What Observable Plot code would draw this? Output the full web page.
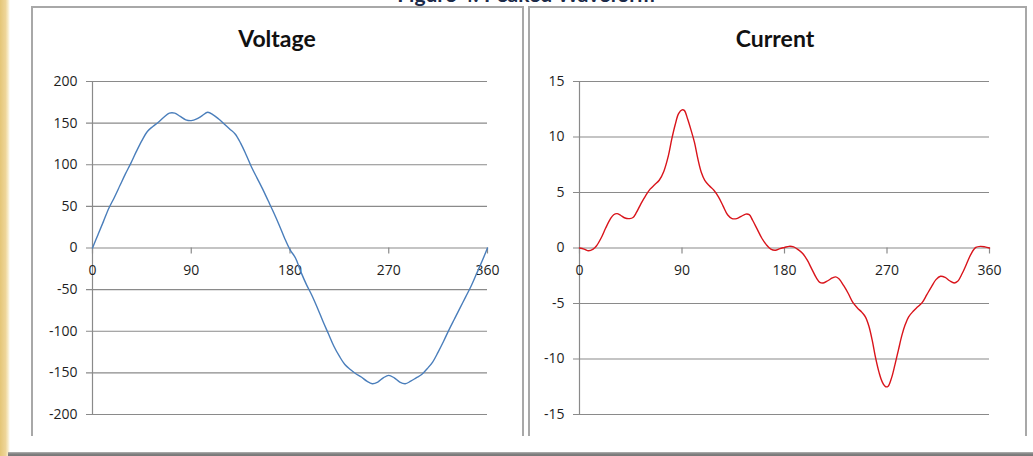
<!DOCTYPE html>
<html>
<head>
<meta charset="utf-8">
<script src="https://cdn.jsdelivr.net/npm/d3@7"></script>
<script src="https://cdn.jsdelivr.net/npm/@observablehq/plot@0.6"></script>
<style>
  html, body { margin: 0; padding: 0; background: #fff; }
  #page { position: relative; width: 1033px; height: 456px; overflow: hidden; background: #fff; font-family: Lato, "Open Sans", sans-serif; }
  .strip { position: absolute; left: 0; top: 0; width: 10px; height: 456px;
           background: linear-gradient(to right, #e4c677 0%, #eed598 55%, #f7ebc8 80%, #ffffff 100%); }
  .figtitle { position: absolute; left: 326px; width: 400px; top: -17px; text-align: center;
              font-size: 21px; line-height: 21px; font-weight: 700; color: #1c2a48; }
  .panel { position: absolute; box-sizing: border-box; border: 2px solid #a8a8a8; border-bottom: none; background: #fff; }
  .ptitle { position: absolute; text-align: center; font-size: 23px; line-height: 23px; font-weight: 700; color: #111; }
  .chart { position: absolute; }
  .shadow { position: absolute; left: 8px; top: 452px; width: 1025px; height: 4px;
            background: linear-gradient(#b4b4b4, #808080 50%, #777); }
</style>
</head>
<body>
<div id="page">
  <div class="strip"></div>
  <div class="figtitle">Figure 4: Peaked Waveform</div>
  <div class="panel" style="left:31px;top:6px;width:493px;height:430px"></div>
  <div class="panel" style="left:528px;top:6px;width:499px;height:430px"></div>
  <div class="ptitle" style="left:177px;width:200px;top:27px">Voltage</div>
  <div class="ptitle" style="left:675px;width:200px;top:27px">Current</div>
  <div id="volt" class="chart" style="left:32px;top:60px"></div>
  <div id="curr" class="chart" style="left:529px;top:60px"></div>
  <div class="shadow"></div>
</div>
<script>
// ---- data ----
const voltDeg = [0,5,10,15,20,25,30,35,40,45,50,55,60,65,70,75,80,85,90,95,100,105,110,115,120,125,130,135,140,145,150,155,160,165,170,175,180,
                 185,190,195,200,205,210,215,220,225,230,235,240,245,250,255,260,265,270,275,280,285,290,295,300,305,310,315,320,325,330,335,340,345,350,355,360];
const voltVal = [0,16,32,48,61,75,89,102,116,129,140,146,151,157,162,162,158,154,153,155,159,163,160,155,149,143,137,126,112,97,84,71,57,43,28,12,-2,
                 -12,-29,-44,-57,-72,-88,-103,-118,-130,-140,-146,-151,-155,-160,-163,-161,-156,-153,-156,-161,-163,-160,-156,-152,-145,-137,-125,-112,-98,-85,-72,-59,-46,-31,-16,0];

const currDeg = [0,4,8,12,15,19,23,27,30,33,36,40,44,47,50,54,58,62,66,70,74,78,81,84,87,90,92,95,98,101,104,107,110,114,118,122,126,130,134,138,142,146,149,152,156,160,164,168,172,176,
                 180,184,188,192,196,200,204,208,211,214,218,222,225,228,232,236,240,244,248,251,254,257,260,263,266,269,271,274,277,280,283,286,289,293,297,301,305,309,313,317,321,325,329,332,336,340,344,348,352,356,360];
const currVal = [0,-0.1,-0.25,-0.1,0.2,0.9,1.8,2.6,3.0,3.1,2.95,2.7,2.65,2.75,3.2,4.0,4.7,5.3,5.7,6.1,6.9,8.3,9.8,11.1,12.1,12.45,12.4,11.6,10.6,9.5,8.0,6.8,6.1,5.6,5.2,4.6,3.8,3.0,2.65,2.65,2.85,3.05,3.0,2.5,1.7,0.9,0.3,-0.1,-0.2,-0.05,
                 0.05,0.15,0.1,-0.15,-0.5,-1.1,-1.9,-2.7,-3.1,-3.15,-2.95,-2.7,-2.6,-2.8,-3.4,-4.1,-4.9,-5.4,-5.8,-6.2,-7.0,-8.3,-9.9,-11.2,-12.1,-12.5,-12.45,-11.7,-10.5,-9.2,-7.9,-6.9,-6.2,-5.7,-5.3,-4.9,-4.2,-3.5,-2.85,-2.55,-2.65,-2.95,-3.15,-3.0,-2.3,-1.4,-0.5,0.05,0.15,0.1,0];

const voltTicks = [-200,-150,-100,-50,0,50,100,150,200];
const currTicks = [-15,-10,-5,0,5,10,15];
const degTicks = [0,90,180,270,360];

const gridColor = "#8a8a8a";
const textColor = "#1e1e1e";

function makeChart({deg, val, yTicks, color, width, marginLeft, marginRight}) {
  const data = deg.map((d, i) => ({deg: d, v: val[i]}));
  return Plot.plot({
    width, height: 380,
    marginLeft, marginRight, marginTop: 21, marginBottom: 26,
    x: {domain: [0, 360], axis: null},
    y: {domain: [yTicks[0], yTicks[yTicks.length - 1]], axis: null},
    style: {fontFamily: "'Open Sans', Lato, sans-serif", fontSize: "14px", color: textColor, background: "transparent", overflow: "visible"},
    marks: [
      Plot.ruleY(yTicks, {y: d => d, stroke: gridColor, strokeWidth: 1.2, insetLeft: -6}),
      Plot.ruleX([0], {x: d => d, stroke: gridColor, strokeWidth: 1.2}),
      Plot.ruleX(degTicks, {x: d => d, y1: 0, y2: 0, insetTop: 6, stroke: gridColor, strokeWidth: 1.2}),
      Plot.text(yTicks, {y: d => d, text: d => String(d), frameAnchor: "left", dx: -15, textAnchor: "end", fill: textColor}),
      Plot.text(degTicks, {x: d => d, y: 0, text: d => String(d), dy: 23, fill: textColor}),
      Plot.line(data, {x: "deg", y: "v", stroke: color, strokeWidth: 1.4, curve: "catmull-rom"})
    ]
  });
}

document.getElementById("volt").append(makeChart({
  deg: voltDeg, val: voltVal, yTicks: voltTicks, color: "#4a7ebb",
  width: 491, marginLeft: 60, marginRight: 36
}));
document.getElementById("curr").append(makeChart({
  deg: currDeg, val: currVal, yTicks: currTicks, color: "#d9141b",
  width: 497, marginLeft: 50, marginRight: 37
}));
</script>
</body>
</html>
